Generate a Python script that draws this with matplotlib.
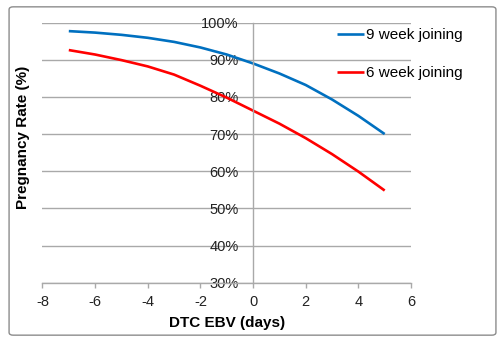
import matplotlib.pyplot as plt
from matplotlib.patches import FancyBboxPatch
from matplotlib.ticker import PercentFormatter

plt.rcParams['font.family'] = ['Liberation Sans', 'DejaVu Sans']
plt.rcParams['axes.unicode_minus'] = False

# DTC EBV (days) and pregnancy rate (%) for each joining length
dtc_ebv = [-7, -6, -5, -4, -3, -2, -1, 0, 1, 2, 3, 4, 5]
rate_9wk = [97.7, 97.3, 96.7, 95.9, 94.8, 93.3, 91.4, 89.0, 86.3, 83.2, 79.3, 74.9, 70.0]
rate_6wk = [92.6, 91.4, 89.9, 88.2, 86.0, 83.0, 79.8, 76.3, 72.8, 68.9, 64.6, 59.9, 54.8]

x_ticks = [-8, -6, -4, -2, 0, 2, 4, 6]
y_ticks = [30, 40, 50, 60, 70, 80, 90, 100]

grey = '#a9a9a9'

fig = plt.figure(figsize=(5.04, 3.42), dpi=100)
ax = fig.add_axes([0.0843, 0.1734, 0.7312, 0.7606])

ax.plot(dtc_ebv, rate_9wk, color='#0070c0', lw=1.9, label='9 week joining',
        solid_capstyle='butt', solid_joinstyle='round')
ax.plot(dtc_ebv, rate_6wk, color='#ff0000', lw=1.9, label='6 week joining',
        solid_capstyle='butt', solid_joinstyle='round')

ax.set_xlim(-8, 6)
ax.set_ylim(30, 100)
ax.set_xticks(x_ticks)
ax.set_yticks(y_ticks)
ax.yaxis.set_major_formatter(PercentFormatter(decimals=0))

# horizontal gridlines only
ax.grid(axis='y', color=grey, lw=1)
ax.set_axisbelow(True)

# value axis crosses at x = 0
for side in ['top', 'right']:
    ax.spines[side].set_visible(False)
ax.spines['left'].set_position(('data', 0))
ax.spines['left'].set_color(grey)
ax.spines['bottom'].set_color(grey)
ax.spines['left'].set_linewidth(1)
ax.spines['bottom'].set_linewidth(1)

ax.tick_params(axis='y', length=0, pad=10.5, labelsize=10.5, labelcolor='#222222')
ax.tick_params(axis='x', direction='out', length=3.5, width=1, color=grey,
               pad=5, labelsize=10.5, labelcolor='#222222')

fig.text(0.046, 0.598, 'Pregnancy Rate (%)', rotation=90, ha='center', va='center',
         fontsize=11, fontweight='bold')
fig.text(0.45, 0.057, 'DTC EBV (days)', ha='center', va='center',
         fontsize=11, fontweight='bold')

ax.legend(loc='upper left', bbox_to_anchor=(0.668, 0.918), bbox_transform=fig.transFigure,
          frameon=False, fontsize=11, handlelength=1.8, handletextpad=0.15,
          labelspacing=1.6, borderpad=0, borderaxespad=0)

# rounded chart border
border = FancyBboxPatch((0.018, 0.02), 0.966, 0.96, boxstyle='round,pad=0,rounding_size=0.008',
                        transform=fig.transFigure, fill=False, edgecolor='#8c8c8c', lw=1)
fig.patches.append(border)

fig.savefig('out.png', dpi=100)
